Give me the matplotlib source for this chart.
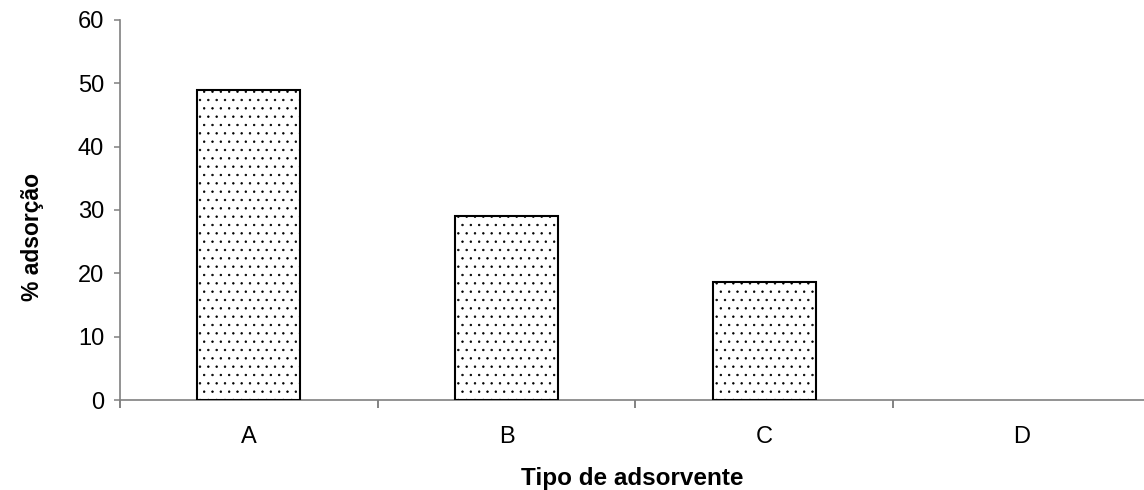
import numpy as np
import matplotlib
matplotlib.use("Agg")
import matplotlib.pyplot as plt

# data
categories = ["A", "B", "C", "D"]
adsorption = [49.0, 29.0, 18.7, 0.0]
yticks = [0, 10, 20, 30, 40, 50, 60]

plt.rcParams["font.family"] = ["Liberation Sans", "DejaVu Sans"]
plt.rcParams["hatch.color"] = "#404040"
plt.rcParams["hatch.linewidth"] = 0.5

fig = plt.figure(figsize=(11.44, 4.90), dpi=100)
ax = fig.add_axes([120/1144, 90/490, 1030.7/1144, 380/490])

x = np.arange(len(categories))
bars = ax.bar(x, adsorption, width=0.4, color="white", edgecolor="black",
              linewidth=1.5, hatch="..", zorder=3)
for b, v in zip(bars, adsorption):
    if v == 0:
        b.set_visible(False)

ax.set_xlim(-0.5, len(categories) - 0.5)
ax.set_ylim(0, 60)
ax.set_yticks(yticks)
ax.set_xticks(x)
ax.set_xticklabels(categories)
ax.set_xticks(np.arange(len(categories)) - 0.5, minor=True)

for s in ["top", "right"]:
    ax.spines[s].set_visible(False)
for s in ["left", "bottom"]:
    ax.spines[s].set_color("#808080")
    ax.spines[s].set_linewidth(1.2)

ax.tick_params(axis="x", which="major", length=0, pad=19, labelsize=17)
ax.tick_params(axis="x", which="minor", length=5.5, width=1.1, color="#606060", direction="out")
ax.tick_params(axis="y", which="major", length=4.5, width=1.1, color="#808080",
               direction="out", pad=7, labelsize=17)

fig.text(33/1144, 1 - 237/490, "% adsorção", rotation=90, ha="center", va="center",
         fontsize=16.5, fontweight="bold")
fig.text(632/1144, 1 - 478/490, "Tipo de adsorvente", ha="center", va="center",
         fontsize=17.5, fontweight="bold")

fig.savefig("out.png", dpi=100)
